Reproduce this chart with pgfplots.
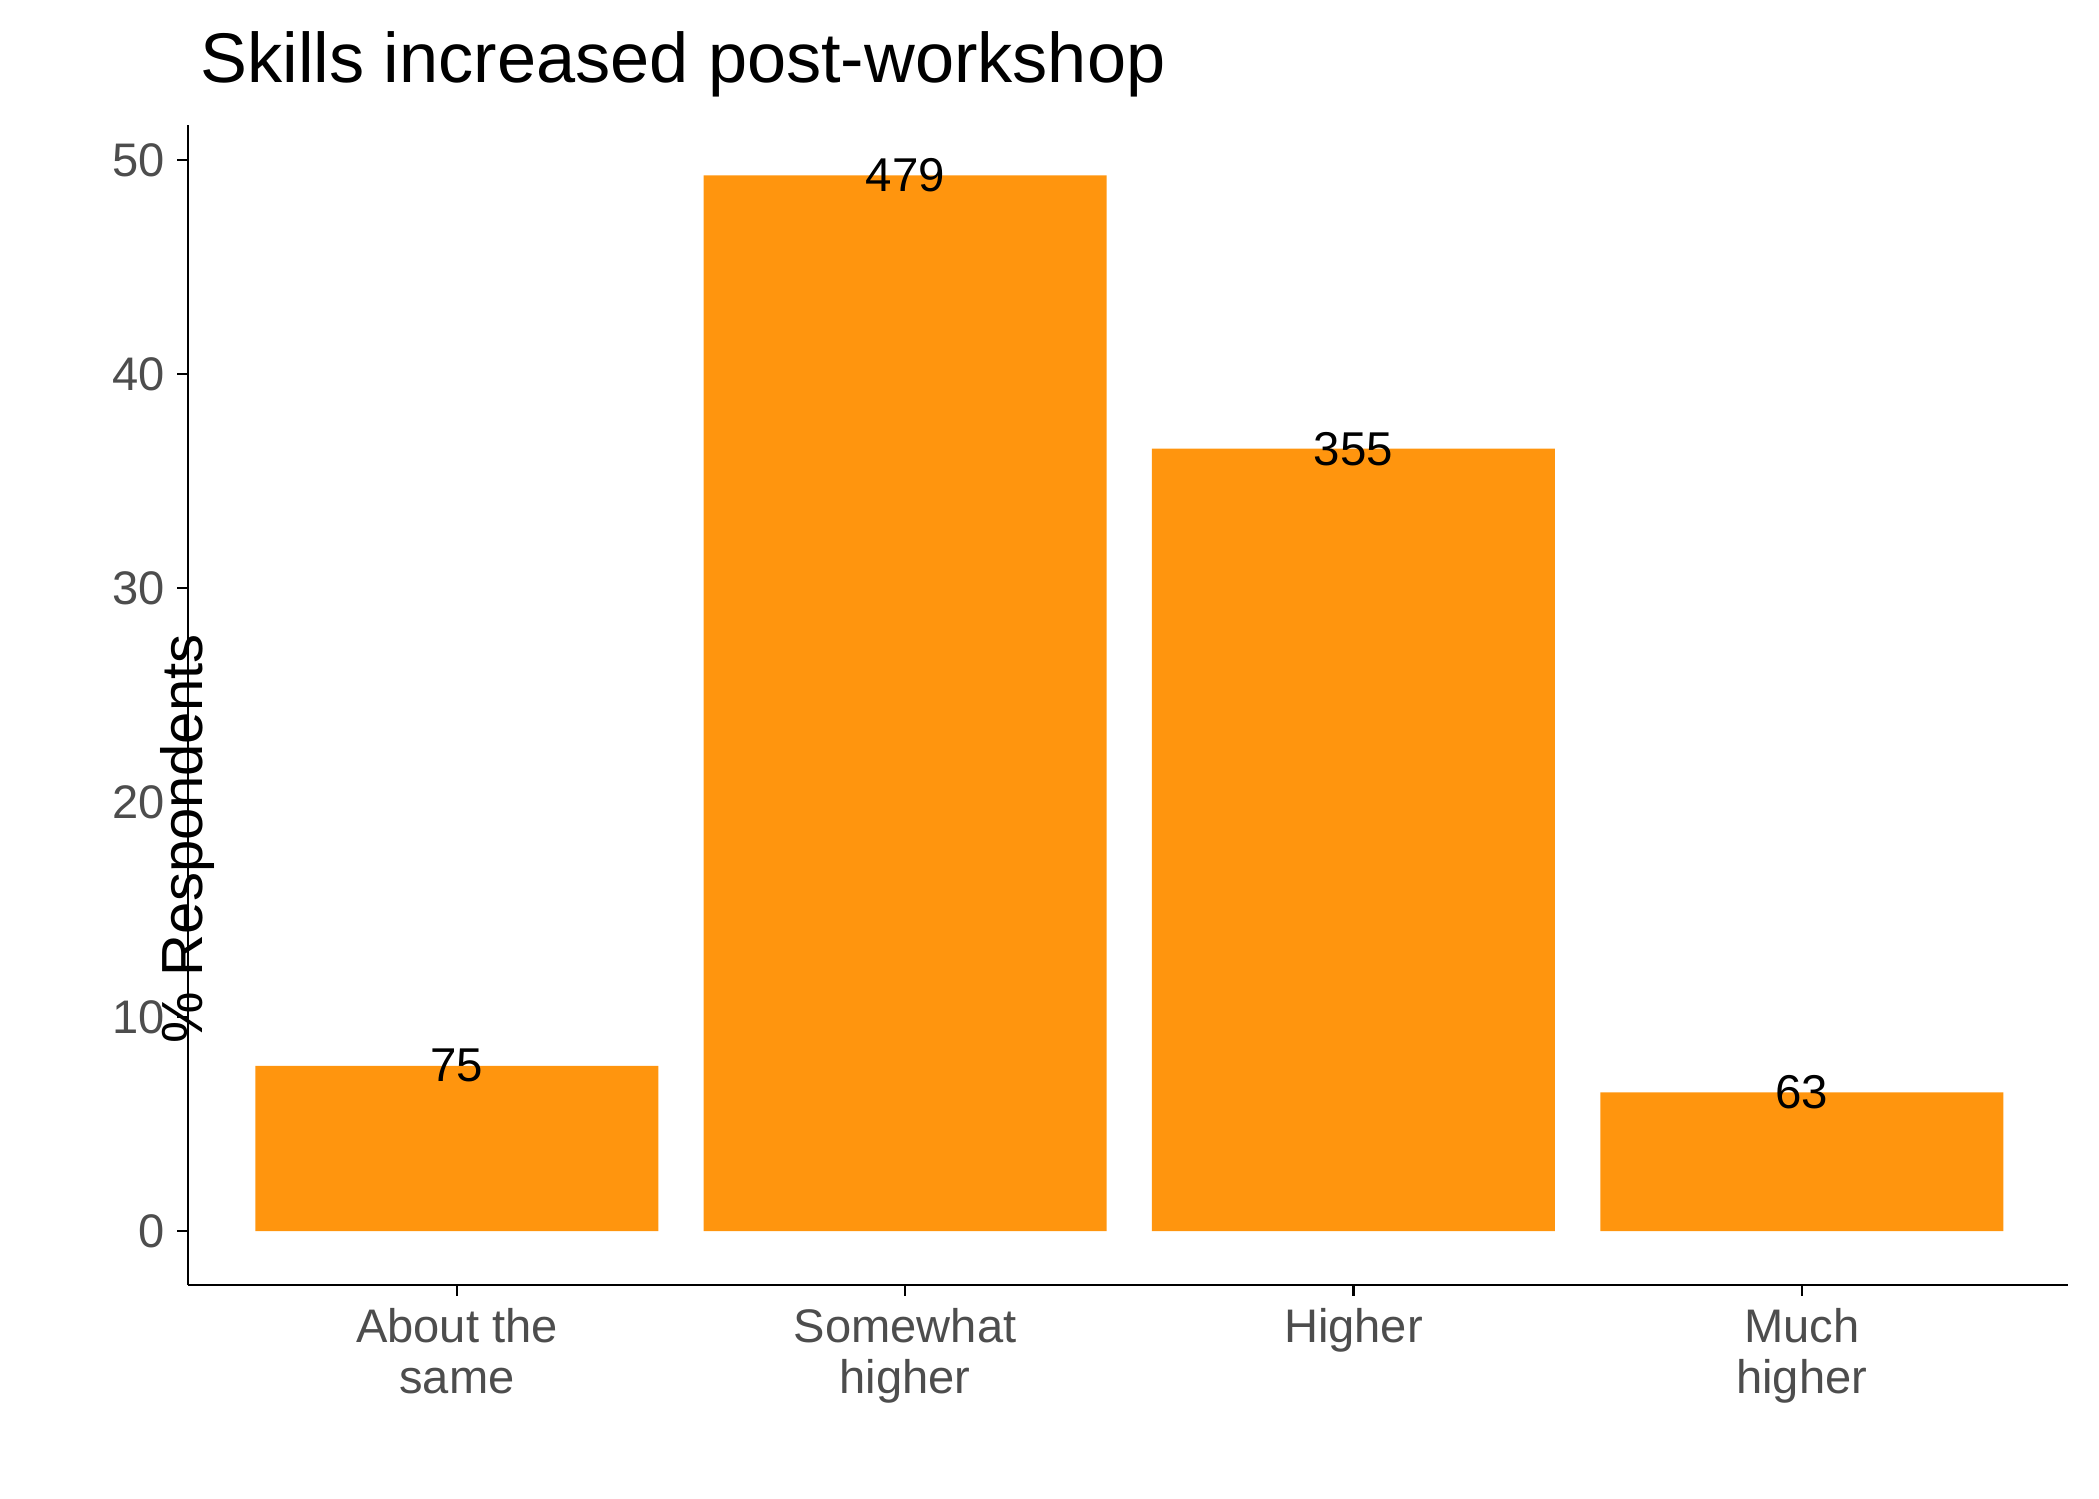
\documentclass[border=0pt]{standalone}
\usepackage{pgfplots}
\pgfplotsset{compat=1.18}
\usepackage{fontspec}
\setmainfont{Liberation Sans}
\definecolor{barorange}{HTML}{FF950E}
\definecolor{tickgray}{HTML}{4D4D4D}
\begin{document}
\begin{tikzpicture}
\path[use as bounding box] (0,0) rectangle (20.99,14.99);
\begin{axis}[
  at={(1.88cm,2.14cm)}, anchor=south west,
  scale only axis, width=18.8cm, height=11.6cm,
  xmin=0.4, xmax=4.594, ymin=-2.51, ymax=51.63,
  axis lines=left, axis line style={-, line width=0.8pt},
  ybar, bar width=4.03cm, bar shift=0pt,
  xtick={1,2,3,4},
  xticklabels={{About the\\same},{Somewhat\\higher},{Higher},{Much\\higher}},
  xticklabel style={align=center, font=\fontsize{13.4}{14.5}\selectfont, text=tickgray},
  yticklabel style={font=\fontsize{13.4}{15}\selectfont, text=tickgray},
  ytick={0,10,20,30,40,50},
  tick style={black, line width=0.6pt},
  tick align=outside, major tick length=0.11cm,
  /pgf/number format/assume math mode=true,
  nodes near coords={\pgfplotspointmeta},
  point meta=explicit symbolic,
  every node near coord/.append style={anchor=center, inner sep=0pt, yshift=0pt, font=\fontsize{13.5}{15}\selectfont, text=black},
  clip=false,
]
\addplot[fill=barorange, draw=none] table[meta=n] {
x y n
1 7.716 75
2 49.280 479
3 36.523 355
4 6.481 63
};
\node[anchor=base west, yshift=0.42cm, font=\fontsize{20}{24}\selectfont] at (rel axis cs:0,1) {Skills increased post-workshop};
\node[anchor=base, yshift=-2.82cm, font=\fontsize{16.5}{19}\selectfont] at (rel axis cs:0.5,0) {Level of Data Management \& Analysis Skills Following the Workshop};
\node[rotate=90, anchor=center, xshift=-1.34cm, font=\fontsize{16.5}{19}\selectfont] at (rel axis cs:0,0.5) {\% Respondents};
\end{axis}
\end{tikzpicture}
\end{document}
